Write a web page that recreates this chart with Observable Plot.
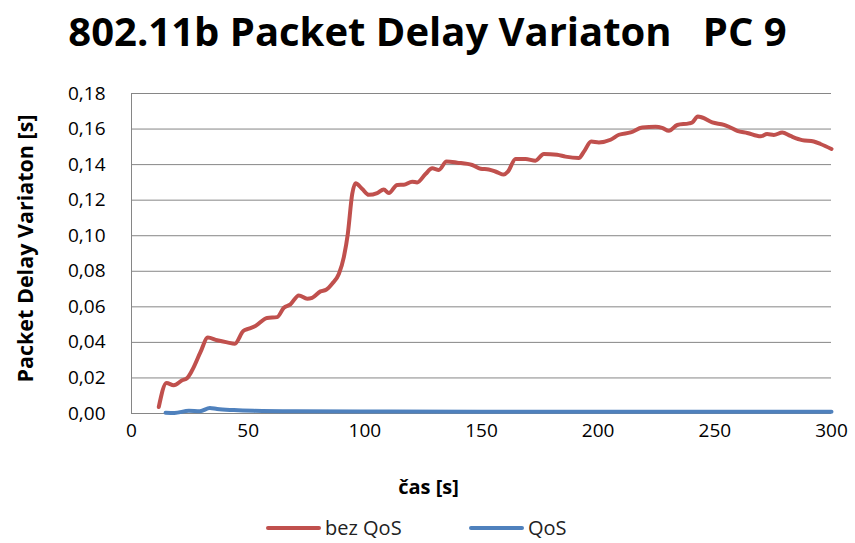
<!DOCTYPE html>
<html>
<head>
<meta charset="utf-8">
<script src="https://cdn.jsdelivr.net/npm/d3@7"></script>
<script src="https://cdn.jsdelivr.net/npm/@observablehq/plot@0.6"></script>
<style>
  html, body { margin: 0; padding: 0; background: #fff; }
  #wrap { width: 855px; height: 543px; position: relative; overflow: hidden; font-family: "Open Sans", "Noto Sans", sans-serif; }
  #title { height: 75px; line-height: 62px; text-align: center; font-weight: bold; font-size: 40px; color: #000; white-space: pre; }
  #legend { position: absolute; top: 516px; left: 0; width: 855px; height: 26px; font-size: 20px; line-height: 24px; color: #222; }
  .li { position: absolute; top: 0; display: flex; align-items: center; height: 24px; }
  .sw { width: 55px; height: 4px; border-radius: 2px; margin-right: 4px; }
</style>
</head>
<body>
<div id="wrap">
  <div id="title">802.11b Packet Delay Variaton   PC 9</div>
  <div id="chart"></div>
  <div id="legend"></div>
</div>
<script>
// Series: bez QoS (time s, value s)
const bezQoS_t = [11.7, 15, 18.1, 21.7, 23.9, 26, 29.6, 32.7, 36.7, 41, 44.3, 47.9, 50.3, 53.1, 58.1, 62.4, 65.3, 68.1, 71.7, 75.3, 77.4, 81, 83.4, 86, 88.9, 91, 92.7, 94.6, 96, 98.9, 101.7, 105.3, 108.1, 110.3, 113.9, 116.7, 120.3, 122.4, 126, 128.9, 131.7, 135, 139.6, 146, 149.6, 153.1, 156.7, 159.6, 161.3, 164.6, 168.9, 173.1, 176.7, 182.4, 186, 191.7, 193.9, 197, 200.3, 205.3, 208.9, 213.9, 218.9, 224.6, 227.4, 230.3, 233.9, 238.9, 240.3, 242.7, 244.6, 248.9, 253.9, 256, 259.6, 263.9, 269.6, 272.4, 275.3, 278.9, 282.4, 287.4, 292.4, 295.3, 300];
const bezQoS_v = [0.0037, 0.0172, 0.0159, 0.0187, 0.020, 0.0243, 0.0346, 0.0427, 0.0412, 0.040, 0.0393, 0.0464, 0.0477, 0.0492, 0.0537, 0.0542, 0.0595, 0.0614, 0.0664, 0.0646, 0.0651, 0.0687, 0.0696, 0.073, 0.0786, 0.088, 0.101, 0.1235, 0.1295, 0.1263, 0.123, 0.124, 0.126, 0.124, 0.1286, 0.1287, 0.1304, 0.130, 0.1347, 0.1379, 0.137, 0.1417, 0.1411, 0.1398, 0.1377, 0.1373, 0.1357, 0.1344, 0.136, 0.1432, 0.1432, 0.1422, 0.146, 0.1456, 0.1445, 0.1437, 0.1473, 0.153, 0.1525, 0.154, 0.1568, 0.1581, 0.1609, 0.1613, 0.1607, 0.159, 0.1623, 0.1632, 0.1637, 0.1671, 0.1665, 0.1637, 0.1624, 0.1613, 0.159, 0.1578, 0.1559, 0.1572, 0.1567, 0.158, 0.1561, 0.1538, 0.153, 0.1516, 0.1488];
// Series: QoS
const qos_t = [14.6, 18.4, 24.6, 29.3, 33.6, 36.7, 43.9, 52.4, 70, 100, 150, 200, 250, 300];
const qos_v = [0.0004, 0.0003, 0.0015, 0.0013, 0.0031, 0.0025, 0.0019, 0.0015, 0.0012, 0.0011, 0.0010, 0.0010, 0.0010, 0.0010];
// Axis ticks
const xTicks = [0, 50, 100, 150, 200, 250, 300];
const yTicks = [0, 0.02, 0.04, 0.06, 0.08, 0.10, 0.12, 0.14, 0.16, 0.18];
const seriesNames = ["bez QoS", "QoS"];
const seriesColors = ["#C0504D", "#4F81BD"];

const bezData = bezQoS_t.map((t, i) => ({t, v: bezQoS_v[i]}));
const qosData = qos_t.map((t, i) => ({t, v: qos_v[i]}));
const fmt = d => d.toFixed(2).replace(".", ",");

const chart = Plot.plot({
  width: 855,
  height: 440,
  marginTop: 18,
  marginBottom: 102,
  marginLeft: 131,
  marginRight: 24,
  style: {fontFamily: "'Open Sans', 'Noto Sans', sans-serif", fontSize: "19px", color: "#000", background: "#fff"},
  x: {domain: [0, 300]},
  y: {domain: [0, 0.18]},
  marks: [
    Plot.gridY(yTicks, {stroke: "#868686", strokeOpacity: 1, strokeWidth: 1}),
    Plot.ruleX([0], {stroke: "#868686", strokeWidth: 1}),
    Plot.ruleY([0], {stroke: "#868686", strokeWidth: 1}),
    Plot.axisY(yTicks, {tickSize: 0, tickPadding: 26, tickFormat: fmt, fontSize: 19, label: null}),
    Plot.axisX(xTicks, {tickSize: 0, tickPadding: 10, fontSize: 19, label: null}),
    Plot.text(["Packet Delay Variaton [s]"], {frameAnchor: "left", textAnchor: "middle", dx: -105, dy: -5, rotate: -90, fontWeight: "bold", fontSize: 21.5}),
    Plot.text(["čas [s]"], {frameAnchor: "bottom", dx: -53, dy: 80, fontWeight: "bold", fontSize: 20}),
    Plot.line(qosData, {x: "t", y: "v", stroke: seriesColors[1], strokeWidth: 4, curve: "monotone-x"}),
    Plot.line(bezData, {x: "t", y: "v", stroke: seriesColors[0], strokeWidth: 4, curve: "monotone-x"})
  ]
});
document.getElementById("chart").appendChild(chart);

const legend = document.getElementById("legend");
const lx = [266, 469];
seriesNames.forEach((n, i) => {
  const d = document.createElement("div");
  d.className = "li";
  d.style.left = lx[i] + "px";
  d.innerHTML = `<div class="sw" style="background:${seriesColors[i]}"></div><span>${n}</span>`;
  legend.appendChild(d);
});
</script>
</body>
</html>
